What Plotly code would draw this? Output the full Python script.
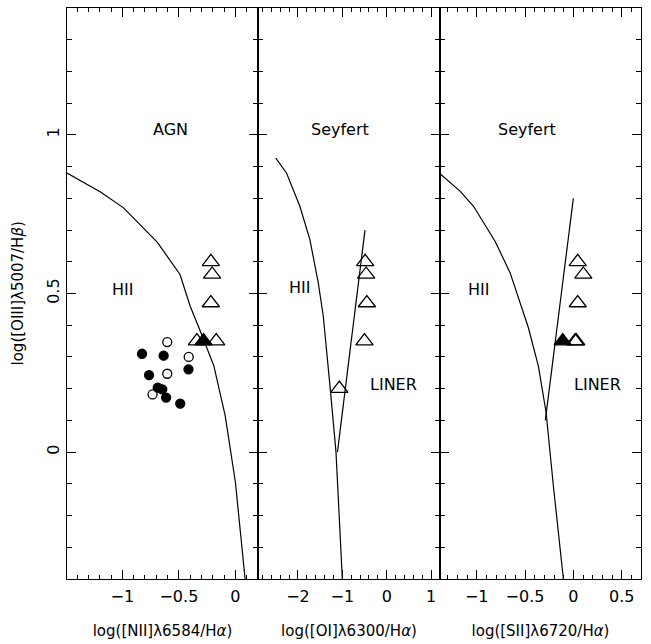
import plotly.graph_objects as go

# ---------------- data ----------------
# Panel 1: log([NII]6584/Ha) vs log([OIII]5007/Hb)
nii_curve_x = [-1.49, -1.19, -0.99, -0.69, -0.49, -0.40, -0.31, -0.19, -0.09, -0.05, 0.0, 0.086]
nii_curve_y = [0.88, 0.819, 0.77, 0.661, 0.56, 0.46, 0.381, 0.271, 0.114, 0.02, -0.095, -0.40]

nii_fcirc_x = [-0.826, -0.635, -0.415, -0.764, -0.687, -0.647, -0.613, -0.488]
nii_fcirc_y = [0.310, 0.304, 0.261, 0.243, 0.203, 0.198, 0.172, 0.153]
nii_ocirc_x = [-0.603, -0.413, -0.603, -0.733]
nii_ocirc_y = [0.347, 0.300, 0.247, 0.182]

nii_otri_x = [-0.217, -0.206, -0.217, -0.341, -0.170]
nii_otri_y = [0.60, 0.56, 0.47, 0.35, 0.35]
nii_ftri_x = [-0.282]
nii_ftri_y = [0.35]

# Panel 2: log([OI]6300/Ha)
oi_curve_x = [-2.50, -2.258, -1.957, -1.731, -1.543, -1.430, -1.278, -1.143, -1.0]
oi_curve_y = [0.927, 0.880, 0.775, 0.670, 0.534, 0.429, 0.208, 0.0, -0.40]
oi_line_x = [-1.11, -0.49]
oi_line_y = [0.0, 0.70]
oi_otri_x = [-0.486, -0.464, -0.448, -0.502, -1.068]
oi_otri_y = [0.60, 0.56, 0.47, 0.35, 0.20]

# Panel 3: log([SII]6720/Ha)
sii_curve_x = [-1.377, -1.170, -1.033, -0.809, -0.654, -0.465, -0.362, -0.282, -0.207, -0.103]
sii_curve_y = [0.877, 0.822, 0.775, 0.664, 0.565, 0.392, 0.271, 0.125, -0.106, -0.40]
sii_line_x = [-0.29, 0.0]
sii_line_y = [0.10, 0.80]
sii_otri_x = [0.045, 0.103, 0.045, 0.018, 0.030]
sii_otri_y = [0.60, 0.56, 0.47, 0.35, 0.35]
sii_ftri_x = [-0.110]
sii_ftri_y = [0.35]

# region labels: (text, x, y) per panel
labels1 = [("AGN", -0.576, 1.016), ("HII", -1.0, 0.513)]
labels2 = [("Seyfert", -1.05, 1.016), ("HII", -1.957, 0.519), ("LINER", 0.147, 0.214)]
labels3 = [("Seyfert", -0.478, 1.016), ("HII", -0.985, 0.513), ("LINER", 0.245, 0.214)]

x_ranges = [[-1.49, 0.2], [-2.9, 1.2], [-1.38, 0.7]]
y_range = [-0.4, 1.4]
x_titles = ["log([NII]λ6584/H<i>α</i>)", "log([OI]λ6300/H<i>α</i>)", "log([SII]λ6720/H<i>α</i>)"]
y_title = "log([OIII]λ5007/H<i>β</i>)"
x_major = [0.5, 1.0, 0.5]
x_minor = [0.1, 0.2, 0.1]

# ---------------- figure ----------------
FONT = "DejaVu Sans"
fig = go.Figure()

line_style = dict(color="black", width=1.2)
tri_size = 15
circ_size = 9


def add_line(x, y, ax):
    fig.add_trace(go.Scatter(x=x, y=y, mode="lines", line=line_style,
                             xaxis=ax[0], yaxis=ax[1], showlegend=False, hoverinfo="skip"))


def add_markers(x, y, ax, symbol, size):
    fig.add_trace(go.Scatter(x=x, y=y, mode="markers", xaxis=ax[0], yaxis=ax[1], showlegend=False,
                             marker=dict(symbol=symbol, size=size, color="black",
                                         line=dict(color="black", width=1.3))))


a1, a2, a3 = ("x", "y"), ("x2", "y2"), ("x3", "y3")
add_line(nii_curve_x, nii_curve_y, a1)
add_markers(nii_fcirc_x, nii_fcirc_y, a1, "circle", circ_size)
add_markers(nii_ocirc_x, nii_ocirc_y, a1, "circle-open", circ_size)
add_markers(nii_otri_x, nii_otri_y, a1, "triangle-up-open", tri_size)
add_markers(nii_ftri_x, nii_ftri_y, a1, "triangle-up", tri_size)

add_line(oi_curve_x, oi_curve_y, a2)
add_line(oi_line_x, oi_line_y, a2)
add_markers(oi_otri_x, oi_otri_y, a2, "triangle-up-open", tri_size)

add_line(sii_curve_x, sii_curve_y, a3)
add_line(sii_line_x, sii_line_y, a3)
add_markers(sii_otri_x, sii_otri_y, a3, "triangle-up-open", tri_size)
add_markers(sii_ftri_x, sii_ftri_y, a3, "triangle-up", tri_size)

annotations = []
for labs, (xr, yr) in zip([labels1, labels2, labels3], [a1, a2, a3]):
    for t, x, y in labs:
        annotations.append(dict(text=t, x=x, y=y, xref=xr, yref=yr, showarrow=False,
                                font=dict(family=FONT, size=16, color="black")))

# y-axis title placed as a rotated annotation, centred on the plot height
annotations.append(dict(text=y_title, xref="paper", yref="paper", x=-0.0854, y=0.5,
                        xanchor="center", yanchor="middle", textangle=-90, showarrow=False,
                        font=dict(family=FONT, size=15, color="black")))

bounds = [0.0, 0.33275, 0.64983, 1.0]
common = dict(showgrid=False, zeroline=False, showline=True, linecolor="black", linewidth=1,
              mirror="allticks", ticks="inside", ticklen=9, tickwidth=1, tickcolor="black",
              tickfont=dict(family=FONT, size=16, color="black"))

layout = dict(width=651, height=644, margin=dict(l=67, r=10, t=7, b=63),
              plot_bgcolor="white", paper_bgcolor="white", annotations=annotations,
              font=dict(family=FONT, color="black"))

for i in range(3):
    suffix = "" if i == 0 else str(i + 1)
    layout["xaxis" + suffix] = dict(
        common, domain=[bounds[i], bounds[i + 1]], range=x_ranges[i], dtick=x_major[i], tick0=0,
        anchor="y" + suffix, ticklabelstandoff=3,
        minor=dict(dtick=x_minor[i], tick0=0, ticks="inside", ticklen=4, tickcolor="black", tickwidth=1),
        title=dict(text=x_titles[i], font=dict(family=FONT, size=15, color="black"), standoff=20))
    ydict = dict(common, domain=[0, 1], range=y_range, dtick=0.5, tick0=0, anchor="x" + suffix,
                 minor=dict(dtick=0.1, tick0=0, ticks="inside", ticklen=5, tickcolor="black", tickwidth=1))
    if i == 0:
        ydict.update(tickangle=-90, ticklabelstandoff=1)
    else:
        ydict.update(showticklabels=False)
    layout["yaxis" + suffix] = ydict

fig.update_layout(**layout)
fig.write_html("out.html")
